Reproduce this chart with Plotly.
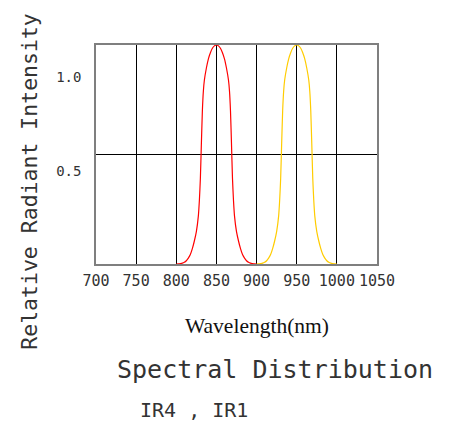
import plotly.graph_objects as go

# ---- data ----
ir4_wavelength = [800, 802.5, 805, 807.5, 810, 812.5, 815, 817.5, 820, 822.5, 825,
                  827.5, 828.75, 830, 831.25, 832.5, 833.75, 835, 837.5, 840, 842.5,
                  845, 847.5, 850,
                  852.5, 855, 857.5, 860, 862.5, 865, 866.25, 867.5, 868.75, 870,
                  871.25, 872.5, 875, 877.5, 880, 882.5, 885, 887.5, 890, 892.5,
                  895, 897.5, 900]
ir4_intensity = [0, 0.0005, 0.002, 0.004, 0.008, 0.015, 0.027, 0.043, 0.07, 0.105, 0.148,
                 0.22, 0.29, 0.39, 0.55, 0.70, 0.79, 0.84, 0.895, 0.937, 0.965,
                 0.985, 0.996, 1.0,
                 0.996, 0.985, 0.965, 0.937, 0.895, 0.84, 0.79, 0.70, 0.55, 0.39,
                 0.29, 0.22, 0.148, 0.105, 0.07, 0.043, 0.027, 0.015, 0.008, 0.004,
                 0.002, 0.0005, 0]
ir1_wavelength = [900, 902.5, 905, 907.5, 910, 912.5, 915, 917.5, 920, 922.5, 925,
                  927.5, 928.75, 930, 931.25, 932.5, 933.75, 935, 937.5, 940, 942.5,
                  945, 947.5, 950,
                  952.5, 955, 957.5, 960, 962.5, 965, 966.25, 967.5, 968.75, 970,
                  971.25, 972.5, 975, 977.5, 980, 982.5, 985, 987.5, 990, 992.5,
                  995, 997.5, 1000]
ir1_intensity = [0, 0.0005, 0.002, 0.004, 0.008, 0.015, 0.027, 0.043, 0.07, 0.105, 0.148,
                 0.22, 0.29, 0.39, 0.55, 0.70, 0.79, 0.84, 0.895, 0.937, 0.965,
                 0.985, 0.996, 1.0,
                 0.996, 0.985, 0.965, 0.937, 0.895, 0.84, 0.79, 0.70, 0.55, 0.39,
                 0.29, 0.22, 0.148, 0.105, 0.07, 0.043, 0.027, 0.015, 0.008, 0.004,
                 0.002, 0.0005, 0]
x_ticks = [700, 750, 800, 850, 900, 950, 1000, 1050]
y_tick_pos = [0.422, 0.852]
y_tick_text = ["0.5", "1.0"]

MONO = "DejaVu Sans Mono"
TXT = "#333333"

fig = go.Figure()
fig.add_trace(go.Scatter(x=ir4_wavelength, y=ir4_intensity, mode="lines",
                         line=dict(color="#ff0000", width=1.2, shape="spline", smoothing=0.6),
                         showlegend=False, hoverinfo="skip"))
fig.add_trace(go.Scatter(x=ir1_wavelength, y=ir1_intensity, mode="lines",
                         line=dict(color="#ffcc00", width=1.2, shape="spline", smoothing=0.6),
                         showlegend=False, hoverinfo="skip"))

fig.add_shape(type="line", xref="x", yref="y", x0=700, x1=1050, y0=0.5, y1=0.5,
              line=dict(color="black", width=1), layer="below")

fig.update_layout(
    width=447, height=415,
    margin=dict(l=88, r=78, t=37, b=159),
    paper_bgcolor="white", plot_bgcolor="white",
    xaxis=dict(range=[700, 1050], tickvals=x_ticks, showgrid=True,
               gridcolor="black", gridwidth=1, zeroline=False,
               showline=True, linecolor="#7f7f7f", linewidth=1.5, mirror=True,
               ticks="", tickfont=dict(family=MONO, size=15, color=TXT),
               ticklabelstandoff=2),
    yaxis=dict(range=[0, 1], tickvals=y_tick_pos, ticktext=y_tick_text,
               showgrid=False, zeroline=False,
               showline=True, linecolor="#7f7f7f", linewidth=1.5, mirror=True,
               ticks="", tickfont=dict(family=MONO, size=14, color=TXT),
               ticklabelstandoff=10),
)

ann = [
    dict(text="Relative Radiant Intensity", x=-0.235, y=0.38, textangle=-90,
         font=dict(family=MONO, size=21.5, color=TXT)),
    dict(text="Wavelength(nm)", x=0.574, y=-0.282,
         font=dict(family="Liberation Serif", size=21.5, color="#111111")),
    dict(text="Spectral Distribution", x=0.638, y=-0.483,
         font=dict(family=MONO, size=25, color=TXT)),
    dict(text="IR4 , IR1", x=0.349, y=-0.666,
         font=dict(family=MONO, size=20, color=TXT)),
]
for a in ann:
    fig.add_annotation(xref="paper", yref="paper", showarrow=False,
                       xanchor="center", yanchor="middle", **a)

fig.write_html("out.html")
